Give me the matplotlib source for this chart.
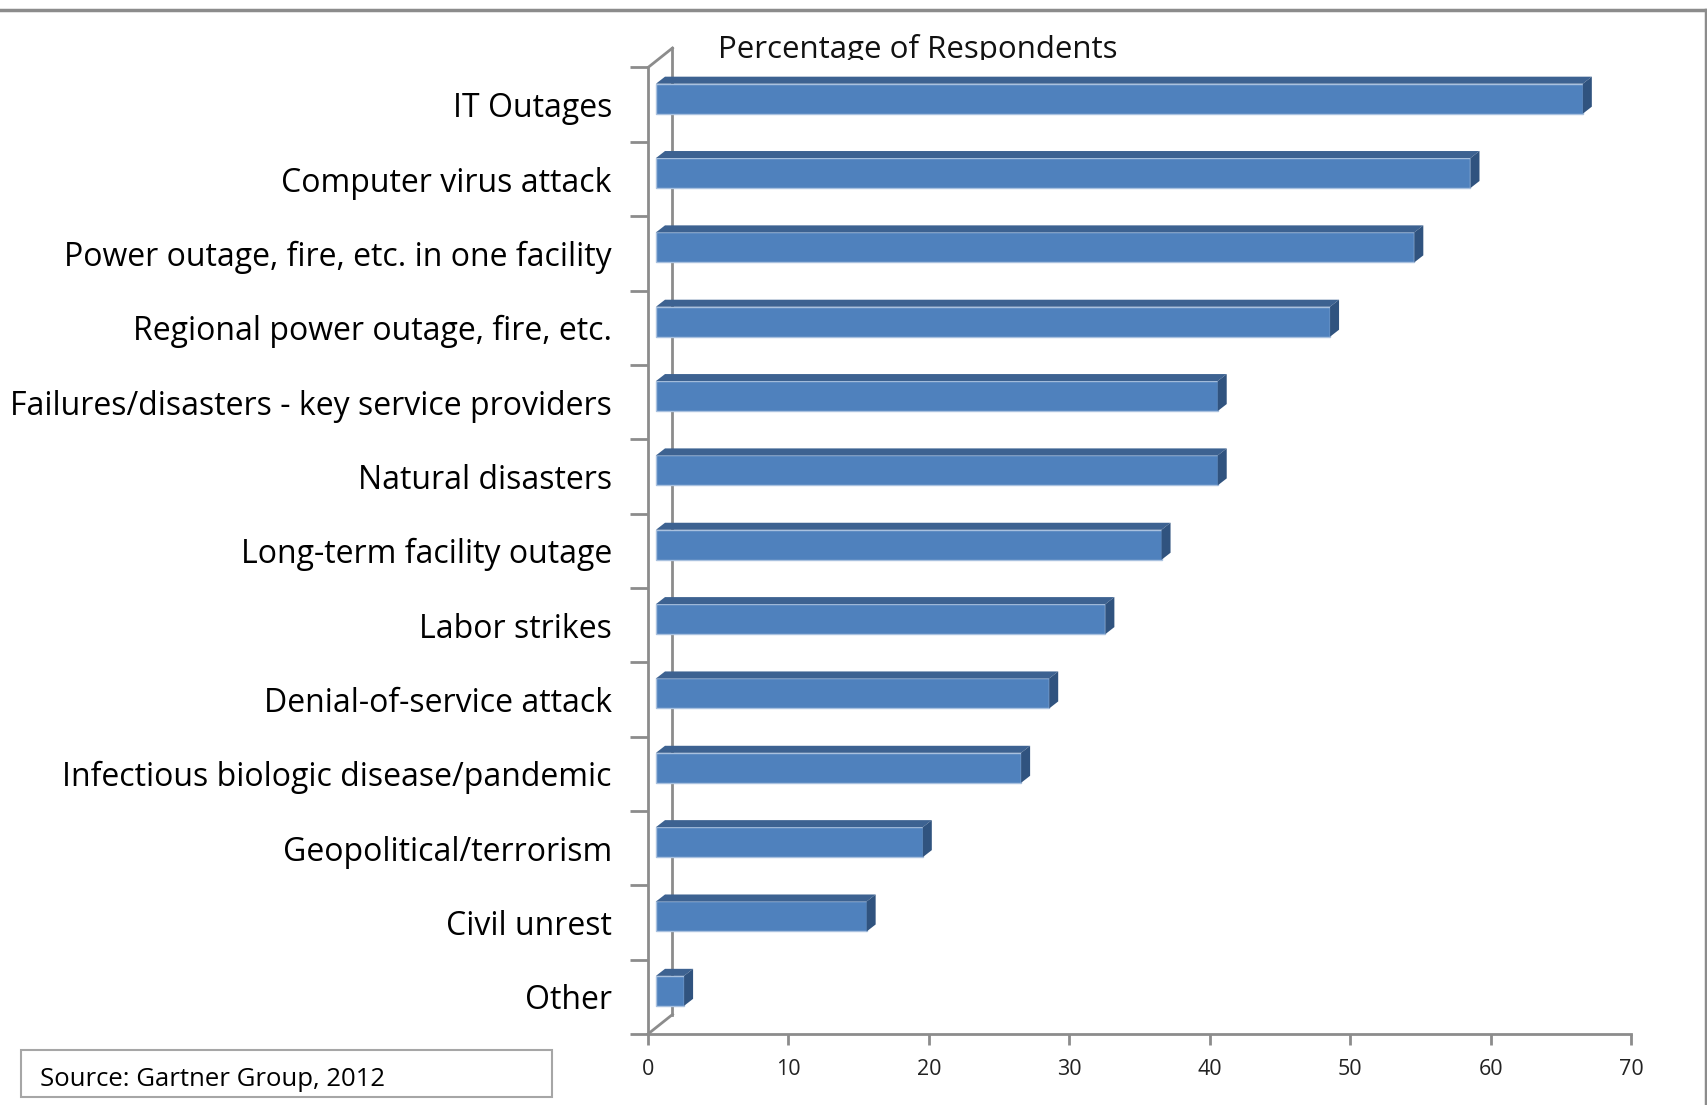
import numpy as np
import matplotlib
matplotlib.use("Agg")
import matplotlib.pyplot as plt
from matplotlib.patches import Polygon, Rectangle
from matplotlib.lines import Line2D
from matplotlib.transforms import Bbox

categories = ["IT Outages", "Computer virus attack", "Power outage, fire, etc. in one facility",
              "Regional power outage, fire, etc.", "Failures/disasters - key service providers",
              "Natural disasters", "Long-term facility outage", "Labor strikes",
              "Denial-of-service attack", "Infectious biologic disease/pandemic",
              "Geopolitical/terrorism", "Civil unrest", "Other"]
values = [66, 58, 54, 48, 40, 40, 36, 32, 28, 26, 19, 15, 2]
x_ticks = [0, 10, 20, 30, 40, 50, 60, 70]

plt.rcParams["font.family"] = ["Open Sans", "DejaVu Sans"]

W, H = 1708, 1105
AX_L, AX_R = 648, 1631
AX_T, AX_B = 67.5, 1034
GRAY = "#8c8c8c"
FRONT = "#4f81bd"
TOP = "#3d6291"
SIDE = "#30537f"

fig = plt.figure(figsize=(W / 100, H / 100), dpi=100)
ax = fig.add_axes([AX_L / W, 1 - AX_B / H, (AX_R - AX_L) / W, (AX_B - AX_T) / H])
ax.set_xlim(0, 70)
ax.set_ylim(12.5, -0.5)
ax.patch.set_visible(False)

# pixel -> data conversion for the fake 3d look
px_x = (AX_R - AX_L) / 70
px_y = (AX_B - AX_T) / 13
fx, fy = 8 / px_x, -6 / px_y          # front face shift
dx, dy = 9 / px_x, -7 / px_y          # bar depth
bx, by = 24.5 / px_x, -19.5 / px_y    # back wall shift
bh = 30 / px_y

# back wall
ax.plot([0, bx], [12.5, 12.5 + by], color=GRAY, lw=2, zorder=1, clip_on=False)
ax.plot([bx, bx], [12.5 + by, -0.5 + by], color=GRAY, lw=2, zorder=1, clip_on=False)
ax.plot([0, bx], [-0.5, -0.5 + by], color=GRAY, lw=2, zorder=1, clip_on=False)

ypos = np.arange(len(categories))
ax.barh(ypos + fy, values, left=fx, height=bh, color=FRONT, edgecolor="#a9c1df",
        linewidth=1, zorder=3)
for y, v in zip(ypos, values):
    y0 = y + fy - bh / 2
    ax.add_patch(Polygon([(fx, y0), (fx + v, y0), (fx + v + dx, y0 + dy), (fx + dx, y0 + dy)],
                         closed=True, facecolor=TOP, edgecolor="none", zorder=3))
    ax.add_patch(Polygon([(fx + v, y0), (fx + v, y0 + bh), (fx + v + dx, y0 + bh + dy),
                          (fx + v + dx, y0 + dy)],
                         closed=True, facecolor=SIDE, edgecolor="none", zorder=3))

for s in ["top", "right"]:
    ax.spines[s].set_visible(False)
for s in ["left", "bottom"]:
    ax.spines[s].set_color(GRAY)
    ax.spines[s].set_linewidth(2)

ax.set_xticks(x_ticks)
ax.tick_params(axis="x", length=8, width=2, color=GRAY, pad=10, labelsize=15.5, labelcolor="#222222")
ax.set_yticks(ypos)
ax.set_yticklabels(categories)
ax.tick_params(axis="y", which="major", length=0, pad=26, labelsize=23, labelcolor="black")
ax.set_yticks(np.arange(-0.5, 13, 1), minor=True)
ax.tick_params(axis="y", which="minor", length=13, width=2, color=GRAY)

# title, cut off by the plot area like in the original
t = fig.text(918 / W, 1 - 58 / H, "Percentage of Respondents", ha="center", va="baseline",
             fontsize=22.5, color="#111111")
t.set_clip_box(Bbox([[0, H - 60], [W, H]]))
t.set_clip_on(True)

# outer frame (only top and right are visible)
fig.add_artist(Line2D([0, 1706 / W], [1 - 10 / H, 1 - 10 / H], color=GRAY, lw=2.5,
                      transform=fig.transFigure))
fig.add_artist(Line2D([1706 / W, 1706 / W], [0, 1 - 10 / H], color=GRAY, lw=2.5,
                      transform=fig.transFigure))

# source box
fig.add_artist(Rectangle((21 / W, 1 - 1097 / H), (552 - 21) / W, 47 / H, fill=False,
                         edgecolor="#a6a6a6", lw=1.5, transform=fig.transFigure))
fig.text(40 / W, 1 - 1080 / H, "Source: Gartner Group, 2012", ha="left", va="center",
         fontsize=18.5, color="black")

fig.savefig("out.png", dpi=100)
